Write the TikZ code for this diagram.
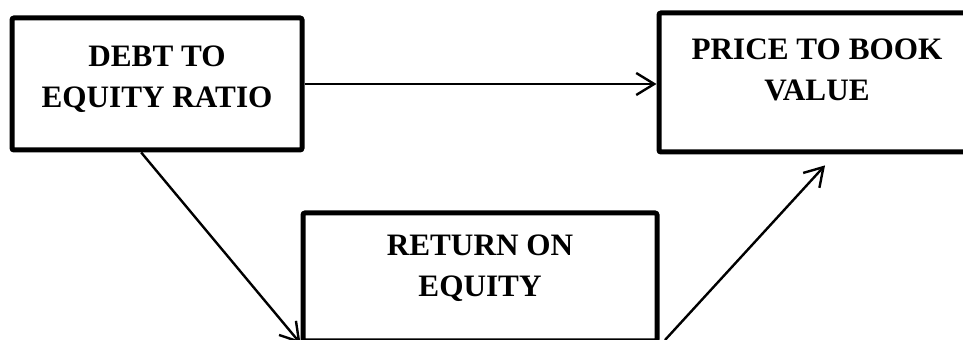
\documentclass[tikz,border=0pt]{standalone}
\usepackage{fontspec}
\setmainfont{Liberation Serif}
\usepackage{tikz}
\usetikzlibrary{arrows.meta,positioning}

\begin{document}
\begin{tikzpicture}[
  x=0.5pt, y=-0.5pt,
  box/.style={draw, line width=2.5pt, rounded corners=1pt, inner sep=0pt},
  boxtext/.style={inner sep=0pt, align=center,
    font=\fontsize{15.6}{20.5}\selectfont\bfseries},
  link/.style={line width=1.2pt, -{Straight Barb[length=9pt,width=11pt]}}
]
\useasboundingbox (0,0) rectangle (963,340);
\clip (0,0) rectangle (963,340);
\node[box, minimum width=145pt, minimum height=66pt] (debt) at (157,84) {};
\node[boxtext, below=15pt of debt.north] (debttext) {DEBT TO\\EQUITY RATIO};
\node[box, minimum width=158pt, minimum height=69.5pt] (ptbv) at (817,82.5) {};
\node[boxtext, below=14pt of ptbv.north] (ptbvtext) {PRICE TO BOOK\\VALUE};
\node[box, minimum width=177pt, minimum height=64pt] (roe) at (480,277) {};
\node[boxtext, below=12pt of roe.north] (roetext) {RETURN ON\\EQUITY};
\coordinate (roeout) at (665,340);
\draw[link] (debt.east) -- (debt.east -| ptbv.west);
\draw[link] (debt.257) -- (roe.south west);
\draw[link, shorten >=7.4pt] (roeout) -- (ptbv.south -| 835,0);
\end{tikzpicture}
\end{document}
